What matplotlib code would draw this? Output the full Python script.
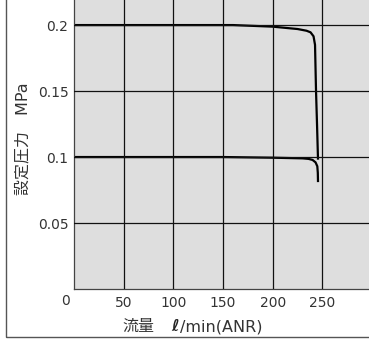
import numpy as np
import matplotlib.pyplot as plt
from matplotlib.patches import Rectangle

plt.rcParams['font.family'] = ['DejaVu Sans', 'Noto Sans CJK JP']

# 設定圧力 0.2 MPa
flow_02 = [0, 160, 200, 225, 234, 238, 241, 242.5, 243.5, 244.5, 245.5]
pres_02 = [0.2, 0.2, 0.1988, 0.197, 0.1957, 0.1945, 0.1915, 0.185, 0.15, 0.125, 0.098]
# 設定圧力 0.1 MPa
flow_01 = [0, 150, 200, 230, 236, 240, 243, 244.8, 245.3, 245.5]
pres_01 = [0.1, 0.1, 0.0995, 0.099, 0.0986, 0.0978, 0.096, 0.093, 0.088, 0.081]

xticks = [50, 100, 150, 200, 250]
yticks = [0.05, 0.1, 0.15, 0.2]
ytick_labels = ['0.05', '0.1', '0.15', '0.2']

W, H = 369, 339
fig = plt.figure(figsize=(W / 100, H / 100), dpi=100)
ax = fig.add_axes([74 / W, (H - 289) / H, (W - 74) / W, 289 / H])
ax.set_facecolor('#dedede')

ax.plot(flow_02, pres_02, color='black', lw=1.6, solid_capstyle='butt')
ax.plot(flow_01, pres_01, color='black', lw=1.6, solid_capstyle='butt')

ax.set_xlim(0, 296.8)
ax.set_ylim(0, 0.219)
ax.set_xticks(xticks)
ax.set_xticklabels([str(v) for v in xticks])
ax.set_yticks(yticks)
ax.set_yticklabels(ytick_labels)
ax.tick_params(length=0, labelsize=10, colors='#333333')
ax.tick_params(axis='x', pad=5)
ax.tick_params(axis='y', pad=4)
ax.grid(True, color='#111111', lw=0.9)
ax.set_axisbelow(False)
for s in ['top', 'right']:
    ax.spines[s].set_visible(False)
for s in ['left', 'bottom']:
    ax.spines[s].set_color('#444444')
    ax.spines[s].set_linewidth(0.9)

# origin label
fig.text(66 / W, 1 - 301 / H, '0', fontsize=10, color='#333333',
         ha='center', va='center')

fig.text(23 / W, 1 - 139 / H, '設定圧力　MPa', rotation=90, fontsize=11.5,
         color='#333333', ha='center', va='center')

# x label in pieces: 流量  ℓ/min(ANR)
base = 1 - 331 / H
fig.text(122 / W, base, '流量', fontsize=11.5, color='#333333',
         family=['Noto Sans CJK JP'], ha='left', va='baseline')
fig.text(171 / W, base, 'ℓ', fontsize=11.5, color='#222222',
         fontweight='bold', fontstyle='italic', ha='left', va='baseline')
fig.text(180 / W, base, '/min(ANR)', fontsize=11.5, color='#333333',
         ha='left', va='baseline')

# outer frame
fig.patches.append(Rectangle((6 / W, 2 / H), 2, 2, transform=fig.transFigure,
                             fill=False, edgecolor='#555555', lw=1.0))

fig.savefig('out.png', dpi=100)
